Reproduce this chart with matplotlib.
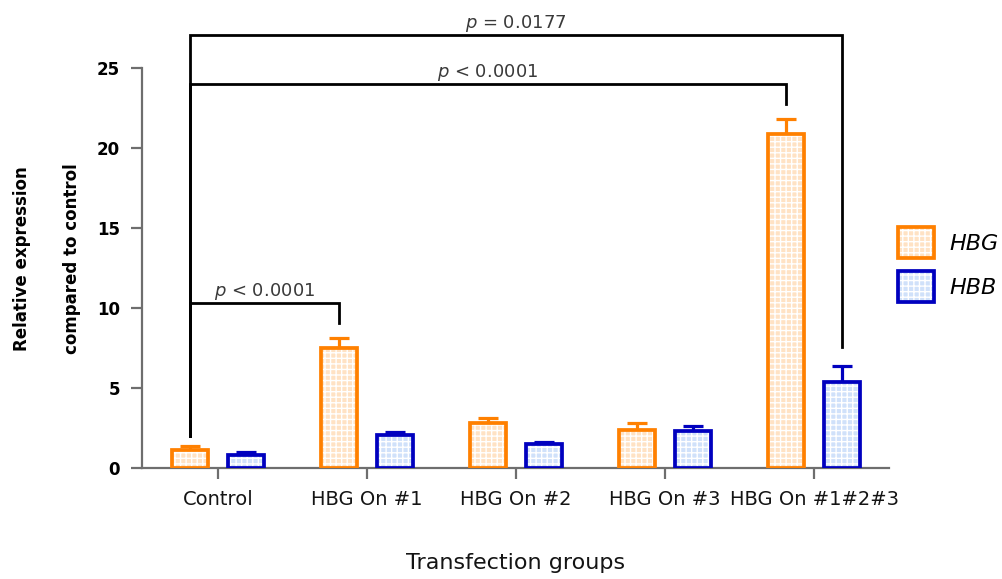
import matplotlib
matplotlib.use("Agg")
import matplotlib.pyplot as plt
import numpy as np
from matplotlib.patches import Patch
from matplotlib.legend_handler import HandlerTuple

# Relative expression (mean and upper SD) per transfection group
groups = ["Control", "HBG On #1", "HBG On #2", "HBG On #3", "HBG On #1#2#3"]
hbg_mean = [1.15, 7.5, 2.8, 2.4, 20.9]
hbg_err = [0.2, 0.6, 0.3, 0.4, 0.9]
hbb_mean = [0.8, 2.05, 1.5, 2.3, 5.4]
hbb_err = [0.2, 0.2, 0.1, 0.3, 1.0]
y_ticks = [0, 5, 10, 15, 20, 25]

# Significance brackets: (group a, series a, group b, series b, bracket height, p-value text)
comparisons = [
    (0, "HBG", 1, "HBG", 10.3, "$\\it{p}$ < 0.0001"),
    (0, "HBG", 4, "HBG", 24.0, "$\\it{p}$ < 0.0001"),
    (0, "HBG", 4, "HBB", 27.05, "$\\it{p}$ = 0.0177"),
]

ORANGE = "#FF8000"
ORANGE_FILL = "#FFE2C4"
BLUE = "#0000BF"
BLUE_FILL = "#D0E1FA"
AXIS_GREY = "#6E6E6E"

plt.rcParams["font.family"] = "DejaVu Sans"
plt.rcParams["hatch.linewidth"] = 1.0

fig = plt.figure(figsize=(10.03, 5.79), dpi=100)
ax = fig.add_axes([142 / 1003, 111 / 579, 747 / 1003, 400 / 579])

x = np.arange(len(groups))
offset = 0.188
width = 0.243
edge_lw = 2.7

series = {
    "HBG": (x - offset, hbg_mean, hbg_err, ORANGE, ORANGE_FILL),
    "HBB": (x + offset, hbb_mean, hbb_err, BLUE, BLUE_FILL),
}

for name, (xs, mean, err, edge, fill) in series.items():
    ax.errorbar(xs, mean, yerr=[np.zeros(len(mean)), err], fmt="none",
                ecolor=edge, elinewidth=2.3, capsize=7.5, capthick=2.3,
                zorder=2)
    ax.bar(xs, mean, width, color=fill, edgecolor="white", linewidth=0,
           hatch="+++", zorder=3)
    ax.bar(xs, mean, width, fill=False, edgecolor=edge, linewidth=edge_lw,
           zorder=4)

# Significance brackets drawn above the bars
tops = {"HBG": np.array(hbg_mean) + np.array(hbg_err),
        "HBB": np.array(hbb_mean) + np.array(hbb_err)}
xpos = {"HBG": x - offset, "HBB": x + offset}
left_bottom = tops["HBG"][0] + 0.65
for ga, sa, gb, sb, h, label in comparisons:
    xa = xpos[sa][ga]
    xb = xpos[sb][gb]
    yb = tops[sb][gb] + 0.95 if sb == "HBG" else tops[sb][gb] + 1.15
    ax.plot([xa, xa, xb, xb], [left_bottom, h, h, yb], color="black",
            lw=2.0, solid_joinstyle="miter", clip_on=False, zorder=5)
    ax.annotate(label, xy=((xa + xb) / 2, h), xytext=(0, 5),
                textcoords="offset points", ha="center", va="baseline",
                fontsize=13, color="#3A3A3A", annotation_clip=False)

ax.set_xlim(-0.51, 4.503)
ax.set_ylim(0, 25)
ax.set_xticks(x)
ax.set_xticklabels(groups, fontsize=14, color="#141414")
ax.set_yticks(y_ticks)
ax.set_yticklabels([str(t) for t in y_ticks], fontsize=12, fontweight="bold")

for side in ("top", "right"):
    ax.spines[side].set_visible(False)
for side in ("left", "bottom"):
    ax.spines[side].set_color(AXIS_GREY)
    ax.spines[side].set_linewidth(1.6)
ax.tick_params(axis="both", color=AXIS_GREY, width=1.6, length=8)
ax.tick_params(axis="y", pad=8)
ax.tick_params(axis="x", pad=8)

# Two-line y-axis title with wide line gap
fig.text(22 / 1003, 1 - 259 / 579, "Relative expression", rotation=90,
         ha="center", va="center", fontsize=12, fontweight="bold")
fig.text(72 / 1003, 1 - 259 / 579, "compared to control", rotation=90,
         ha="center", va="center", fontsize=12, fontweight="bold")

ax.set_xlabel("Transfection groups", fontsize=16, color="#141414")
ax.xaxis.set_label_coords(0.5, -(553 - 468) / 400)

# Legend swatches: hatched fill with a coloured outline
handles = [
    (Patch(facecolor=ORANGE_FILL, edgecolor="white", linewidth=0, hatch="+++"),
     Patch(fill=False, edgecolor=ORANGE, linewidth=edge_lw)),
    (Patch(facecolor=BLUE_FILL, edgecolor="white", linewidth=0, hatch="+++"),
     Patch(fill=False, edgecolor=BLUE, linewidth=edge_lw)),
]
leg = fig.legend(handles, ["HBG", "HBB"], loc="upper left",
                 bbox_to_anchor=(898 / 1003, 1 - 227 / 579),
                 handler_map={tuple: HandlerTuple(ndivide=1, pad=0)},
                 frameon=False, borderpad=0, borderaxespad=0,
                 handlelength=1.6, handleheight=1.75, handletextpad=0.7,
                 labelspacing=0.6, prop={"size": 16, "style": "italic"})

fig.savefig("out.png", dpi=100)
